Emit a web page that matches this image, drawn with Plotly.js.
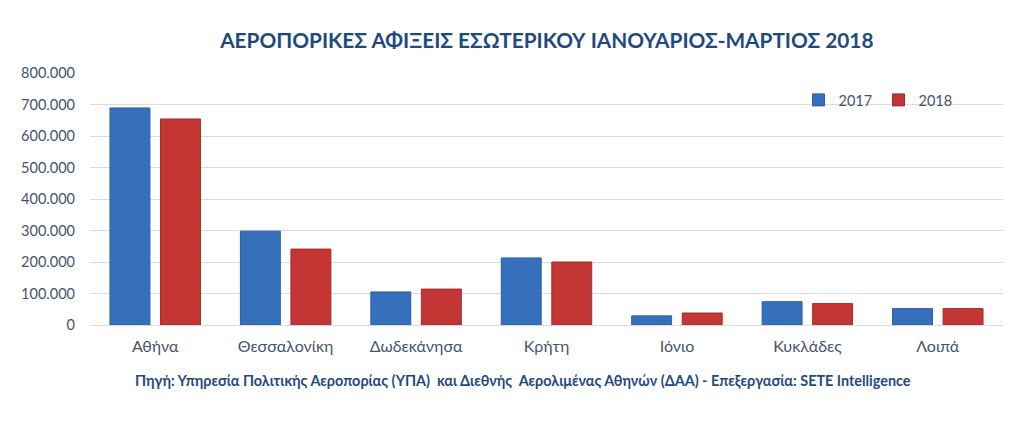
<!DOCTYPE html>
<html>
<head>
<meta charset="utf-8">
<script src="https://cdn.plot.ly/plotly-3.0.1.min.js"></script>
<style>
  html, body { margin: 0; padding: 0; background: #fff; }
  #chart { width: 1024px; height: 429px; }
</style>
</head>
<body>
<div id="chart"></div>
<script>
// Περιφέρειες αφίξεων
const perioxes = ["Αθήνα", "Θεσσαλονίκη", "Δωδεκάνησα", "Κρήτη", "Ιόνιο", "Κυκλάδες", "Λοιπά"];
const afixeis2017 = [689000, 298000, 105000, 213000, 29000, 74000, 52000];
const afixeis2018 = [654000, 241000, 114000, 200000, 38000, 68000, 52000];
const yTicks = [0, 100000, 200000, 300000, 400000, 500000, 600000, 700000, 800000];
const yTickLabels = ["0", "100.000", "200.000", "300.000", "400.000", "500.000", "600.000", "700.000", "800.000"];

const font = "Lato, 'Open Sans', sans-serif";

const bar2017 = {
    x: perioxes,
    y: afixeis2017,
    type: "bar",
    name: "2017",
    marker: { color: "#3670BD", line: { color: "#2F5E9E", width: 1 } }
};

const bar2018 = {
    x: perioxes,
    y: afixeis2018,
    type: "bar",
    name: "2018",
    marker: { color: "#C33634", line: { color: "#A12C2B", width: 1 } }
};

const layout = {
    width: 1024,
    height: 429,
    margin: { l: 90, r: 21, t: 73, b: 104 },
    paper_bgcolor: "white",
    plot_bgcolor: "white",
    font: { family: font, color: "#44546A", size: 15 },
    title: {
        text: "<b>ΑΕΡΟΠΟΡΙΚΕΣ ΑΦΙΞΕΙΣ ΕΣΩΤΕΡΙΚΟΥ ΙΑΝΟΥΑΡΙΟΣ-ΜΑΡΤΙΟΣ 2018</b>",
        font: { family: font, size: 20.8, color: "#1F4A7F" },
        x: 0.534, xanchor: "center",
        y: 0.905, yanchor: "middle"
    },
    barmode: "group",
    bargap: 0.225,
    bargroupgap: 0.21,
    xaxis: {
        showgrid: false,
        showline: false,
        ticks: "",
        ticklabelstandoff: 10,
        tickfont: { size: 16, color: "#44546A" }
    },
    yaxis: {
        range: [0, 800000],
        tickvals: yTicks,
        ticktext: yTickLabels,
        showgrid: true,
        gridcolor: "#D6DCE5",
        gridwidth: 1,
        zeroline: true,
        zerolinecolor: "#D6DCE5",
        showline: false,
        ticks: "",
        ticklabelstandoff: 14,
        tickfont: { size: 14.5, color: "#44546A" }
    },
    legend: {
        orientation: "h",
        x: 0.776, xanchor: "left",
        y: 0.893, yanchor: "middle",
        font: { size: 14.5, color: "#44546A" },
        entrywidth: 35,
        bgcolor: "rgba(0,0,0,0)"
    },
    annotations: [{
        text: "<b>Πηγή: Υπηρεσία Πολιτικής Αεροπορίας (ΥΠΑ)  και Διεθνής  Αερολιμένας Αθηνών (ΔΑΑ) - Επεξεργασία: SETE Intelligence</b>",
        xref: "paper", yref: "paper",
        x: 0.474, xanchor: "center",
        y: -0.22, yanchor: "middle",
        showarrow: false,
        font: { family: font, size: 14.4, color: "#1F4A7F" }
    }]
};

Plotly.newPlot("chart", [bar2017, bar2018], layout, { displayModeBar: false });
</script>
</body>
</html>
